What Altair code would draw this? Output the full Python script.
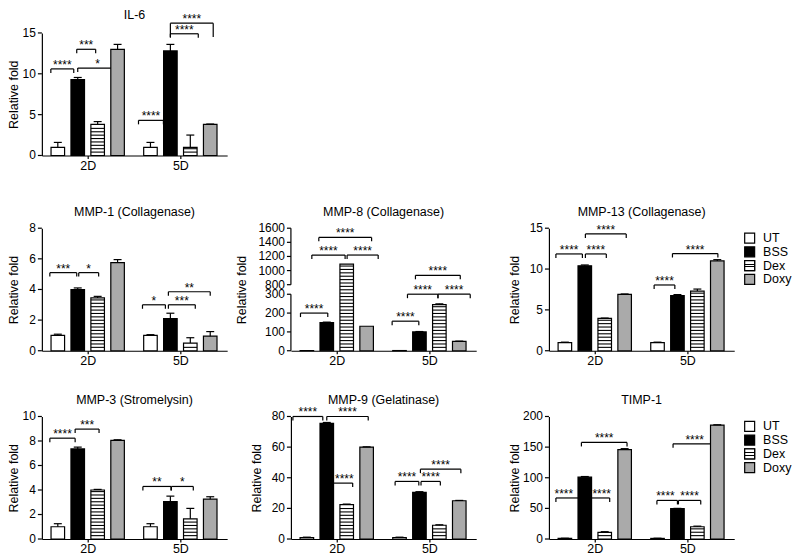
import altair as alt
import numpy as np
import pandas as pd

FONT = "Liberation Sans"

# ---------------- data ----------------
treatments = ["UT", "BSS", "Dex", "Doxy"]
days = ["2D", "5D"]
fill_colors = ["#ffffff", "#000000", "#ffffff", "#aaaaaa"]
y_title = "Relative fold"

# order of values: 2D UT, BSS, Dex, Doxy, 5D UT, BSS, Dex, Doxy
il6_title = "IL-6"
il6_mean = [1.0, 9.3, 3.8, 13.0, 1.0, 12.8, 1.0, 3.8]
il6_err = [0.6, 0.25, 0.35, 0.6, 0.6, 0.8, 1.5, 0.05]
il6_ticks = [0, 5, 10, 15]
# (day, from bar, to bar, level, label[, label position])
il6_brackets = [(0, -0.35, 0.8, 10.6, "****"), (0, 0.95, 1.9, 13.0, "***"),
                (0, 1.0, 3.0, 10.7, "*"), (1, -0.6, 0.65, 4.3, "****"),
                (1, 1.0, 2.4, 14.9, "****"), (1, 1.0, 3.15, 16.2, "****")]

mmp1_title = "MMP-1 (Collagenase)"
mmp1_mean = [1.0, 4.0, 3.45, 5.75, 1.0, 2.1, 0.5, 0.95]
mmp1_err = [0.08, 0.1, 0.1, 0.2, 0.05, 0.35, 0.35, 0.3]
mmp1_ticks = [0, 2, 4, 6, 8]
mmp1_brackets = [(0, -0.4, 0.95, 5.1, "***"), (0, 1.05, 2.05, 5.1, "*"),
                 (1, -0.4, 0.75, 3.0, "*"), (1, 0.9, 2.25, 3.0, "***"),
                 (1, 0.9, 3.0, 3.85, "**")]

mmp8_title = "MMP-8 (Collagenase)"
mmp8_mean = [1.0, 150, 1090, 130, 1.0, 100, 245, 50]
mmp8_err = [0, 2, 0, 0, 0, 2, 4, 1]
mmp8_ticks = [0, 100, 200, 300, 800, 1000, 1200, 1400, 1600]
mmp8_brackets = [(0, -0.32, 1.05, 200, "****"), (0, 0.25, 1.92, 1220, "****"),
                 (0, 2.02, 3.58, 1220, "****"), (0, 0.6, 3.25, 1470, "****"),
                 (1, -0.37, 0.97, 157, "****"), (1, 0.4, 1.93, 303, "****"),
                 (1, 1.93, 3.55, 303, "****"), (1, 0.8, 3.05, 933, "****")]
mmp8_break = [0, 300, 800, 1600]

mmp13_title = "MMP-13 (Collagenase)"
mmp13_mean = [1.0, 10.4, 3.95, 6.9, 1.0, 6.75, 7.3, 11.0]
mmp13_err = [0.05, 0.1, 0.05, 0.05, 0.05, 0.12, 0.25, 0.15]
mmp13_ticks = [0, 5, 10, 15]
mmp13_brackets = [(0, -0.45, 0.88, 11.85, "****"), (0, 1.03, 2.08, 11.85, "****"),
                  (0, 1.03, 3.08, 14.3, "****"), (1, -0.17, 0.87, 8.05, "****"),
                  (1, 0.75, 3.03, 11.9, "****")]

mmp3_title = "MMP-3 (Stromelysin)"
mmp3_mean = [1.0, 7.35, 4.0, 8.05, 1.0, 3.05, 1.65, 3.25]
mmp3_err = [0.25, 0.15, 0.05, 0.05, 0.25, 0.45, 0.85, 0.2]
mmp3_ticks = [0, 2, 4, 6, 8, 10]
mmp3_brackets = [(0, -0.4, 0.87, 8.23, "****"), (0, 0.87, 2.07, 8.97, "***"),
                 (1, -0.38, 1.03, 4.29, "**"), (1, 1.05, 2.15, 4.29, "*")]

mmp9_title = "MMP-9 (Gelatinase)"
mmp9_mean = [1.0, 75.5, 22.5, 60.0, 1.0, 30.5, 9.0, 25.0]
mmp9_err = [0.2, 0.6, 0.3, 0.2, 0.2, 0.4, 0.3, 0.2]
mmp9_ticks = [0, 20, 40, 60, 80]
mmp9_brackets = [(0, -0.7, 0.8, 80, "****"), (0, 1.0, 3.08, 80, "****"),
                 (0, 1.0, 2.3, 36.5, "****", 1.88), (1, -0.22, 0.97, 37.6, "****"),
                 (1, 1.08, 2.05, 37.6, "****"), (1, 1.05, 3.08, 45.6, "****")]

timp1_title = "TIMP-1"
timp1_mean = [1.0, 101, 11, 146, 1.0, 49.5, 20, 186]
timp1_err = [0.3, 1, 1, 1.5, 0.3, 0.5, 1, 0.5]
timp1_ticks = [0, 50, 100, 150, 200]
timp1_brackets = [(0, -0.45, 1.0, 67, "****", -0.05), (0, 1.0, 2.25, 67, "****", 1.85),
                  (0, 0.83, 3.12, 157.6, "****"), (1, -0.03, 1.0, 63, "****", 0.4),
                  (1, 1.05, 2.17, 63, "****"), (1, 0.78, 2.95, 155.4, "****")]

# ---------------- layout / style ----------------
W, H = 186, 123
X_MAX = 9.3
GROUP_START = [0.8, 5.45]
HALF_BAR = 0.34
CAP_HALF = 0.2
STRIPE_PX = 3.4
DROP_PX = 4.0
LW = 1.2
BREAK_PX = [0, 56.7, 66.3, H]

fill_scale = alt.Scale(domain=treatments, range=fill_colors)


def make_panel(title, mean, err, brackets, ticks, title_x, title_y=-12.5, breaks=None):
    broken = breaks is not None
    if broken:
        dp = np.array(breaks, float)
        pp = np.array(BREAK_PX, float)
    else:
        dp = np.array([0, ticks[-1]], float)
        pp = np.array([0, H], float)
    to_px = lambda v: float(np.interp(v, dp, pp))
    to_val = lambda p: float(np.interp(p, pp, dp))

    n = len(treatments)
    bar_rows = []
    for i, (m, e) in enumerate(zip(mean, err)):
        g, k = divmod(i, n)
        c = GROUP_START[g] + k
        bar_rows.append({"treatment": treatments[k], "day": days[g], "c": c,
                         "bx1": c - HALF_BAR, "bx2": c + HALF_BAR,
                         "cl": c - CAP_HALF, "cr": c + CAP_HALF,
                         "base": 0.0, "mean": m, "top": m + e, "err": e})
    bars = pd.DataFrame(bar_rows)

    stripe_rows = []
    for r in bar_rows:
        if r["treatment"] != treatments[2]:
            continue
        top_px = to_px(r["mean"])
        p = STRIPE_PX
        while p < top_px - 1.2:
            stripe_rows.append({"sx1": r["bx1"], "sx2": r["bx2"], "sv": to_val(p)})
            p += STRIPE_PX
    stripes = pd.DataFrame(stripe_rows)

    br_rows, drop_rows = [], []
    for br in brackets:
        g, a, b, yv, s = br[:5]
        xa = GROUP_START[g] + a
        xb = GROUP_START[g] + b
        xm = GROUP_START[g] + br[5] if len(br) > 5 else (xa + xb) / 2
        yd = to_val(to_px(yv) - DROP_PX)
        br_rows.append({"xa": xa, "xb": xb, "xm": xm, "yv": yv, "s": s})
        drop_rows.append({"dx": xa, "dy": yv, "dy2": yd})
        drop_rows.append({"dx": xb, "dy": yv, "dy2": yd})
    brs = pd.DataFrame(br_rows)
    drops = pd.DataFrame(drop_rows)

    xs = alt.Scale(domain=[0, X_MAX], nice=False, zero=False)
    if broken:
        ys = alt.Scale(type="linear", domain=list(breaks), range=[H - p for p in BREAK_PX],
                       nice=False, zero=False)
    else:
        ys = alt.Scale(domain=[0, ticks[-1]], nice=False, zero=True)

    centers = [g0 + (n - 1) / 2 for g0 in GROUP_START]
    mid = sum(centers) / 2
    x_axis = alt.Axis(values=centers,
                      labelExpr=f"datum.value < {mid} ? '{days[0]}' : '{days[1]}'",
                      title=None, tickSize=3, labelFontSize=12.5, labelPadding=1,
                      grid=False, domainWidth=LW, tickWidth=LW, labelOverlap=False)
    y_axis = alt.Axis(values=ticks, title=y_title, titleX=title_x, titleY=H / 2,
                      titleAngle=270, titleAlign="center", titleBaseline="middle",
                      titleFontSize=12.5, titleFontWeight="normal",
                      labels=False, ticks=False, grid=False,
                      domain=not broken, domainWidth=LW)

    X = lambda f: alt.X(f"{f}:Q", scale=xs)
    Y = lambda f: alt.Y(f"{f}:Q", scale=ys)

    tick_df = pd.DataFrame({"v": ticks, "lab": [str(t) for t in ticks]})

    layers = [
        alt.Chart(bars).mark_rect(stroke="black", strokeWidth=LW, opacity=0).encode(
            x=alt.X("bx1:Q", scale=xs, axis=x_axis), x2="bx2:Q",
            y=alt.Y("base:Q", scale=ys, axis=y_axis), y2="mean:Q"),
        # y-axis ticks and labels
        alt.Chart(tick_df).mark_rule(color="black", strokeWidth=LW).encode(
            x=alt.value(-4), x2=alt.value(0), y=Y("v")),
        alt.Chart(tick_df).mark_text(align="right", baseline="middle", fontSize=12,
                                     color="black", font=FONT).encode(
            x=alt.value(-6), y=Y("v"), text="lab:N"),
        alt.Chart(brs).mark_rule(color="black", strokeWidth=LW).encode(
            x=X("xa"), x2="xb:Q", y=Y("yv")),
        alt.Chart(drops).mark_rule(color="black", strokeWidth=LW).encode(
            x=X("dx"), y=Y("dy"), y2="dy2:Q"),
        alt.Chart(bars).mark_rect(stroke="black", strokeWidth=LW).encode(
            x=X("bx1"), x2="bx2:Q", y=Y("base"), y2="mean:Q",
            fill=alt.Fill("treatment:N", scale=fill_scale, legend=None)),
        alt.Chart(stripes).mark_rule(color="black", strokeWidth=1.1).encode(
            x=X("sx1"), x2="sx2:Q", y=Y("sv")),
        alt.Chart(brs).mark_text(fontSize=12, baseline="alphabetic", color="black", font=FONT).encode(
            x=X("xm"), y=Y("yv"), text="s:N"),
    ]
    errs = bars[bars["err"] > 0]
    layers += [
        alt.Chart(errs).mark_rule(color="black", strokeWidth=LW).encode(
            x=X("c"), y=Y("mean"), y2="top:Q"),
        alt.Chart(errs).mark_rule(color="black", strokeWidth=LW).encode(
            x=X("cl"), x2="cr:Q", y=Y("top")),
    ]
    if broken:
        seg = pd.DataFrame({"lo": [breaks[0], breaks[2]], "hi": [breaks[1], breaks[3]]})
        layers.append(alt.Chart(seg).mark_rule(color="black", strokeWidth=LW).encode(
            x=alt.value(0), y=Y("lo"), y2="hi:Q"))
    # panel title as a text mark placed above the plot area
    layers.append(alt.Chart(pd.DataFrame({"t": [title]})).mark_text(
        fontSize=12.5, baseline="alphabetic", align="center", color="black", font=FONT).encode(
        x=alt.value(W / 2), y=alt.value(title_y), text="t:N"))
    return alt.layer(*layers).properties(width=W, height=H)


def make_legend():
    df = pd.DataFrame({"treatment": treatments, "idx": list(range(len(treatments)))})
    ly = alt.Y("idx:Q", scale=alt.Scale(domain=[-0.72, 8.2], reverse=True, nice=False, zero=False),
               axis=None)
    stops = []
    for off, col in [(0, "white"), (0.31, "white"), (0.31, "black"), (0.42, "black"),
                     (0.42, "white"), (0.58, "white"), (0.58, "black"), (0.69, "black"),
                     (0.69, "white"), (1, "white")]:
        stops.append(alt.GradientStop(offset=off, color=col))
    grad = alt.LinearGradient(gradient="linear", stops=stops, x1=0, y1=0, x2=0, y2=1)
    sq = alt.Chart(df).mark_square(size=100, stroke="black", strokeWidth=LW, opacity=1,
                                   fillOpacity=1).encode(
        x=alt.value(8.5), y=ly, fill=alt.Fill("treatment:N", scale=fill_scale, legend=None))
    dex = alt.Chart(df).transform_filter(alt.datum.treatment == treatments[2]).mark_square(
        size=100, stroke="black", strokeWidth=LW, fill=grad, opacity=1).encode(
        x=alt.value(8.5), y=ly)
    tx = alt.Chart(df).mark_text(align="left", baseline="middle", fontSize=12.5,
                                 color="black", font=FONT).encode(
        x=alt.value(22), y=ly, text="treatment:N")
    return alt.layer(sq, dex, tx).properties(width=48, height=H)


def spacer(w, h):
    return alt.Chart(pd.DataFrame({"z": [0]})).mark_point(opacity=0).properties(width=w, height=h)


il6 = make_panel(il6_title, il6_mean, il6_err, il6_brackets, il6_ticks, -28, title_y=-14)
mmp1 = make_panel(mmp1_title, mmp1_mean, mmp1_err, mmp1_brackets, mmp1_ticks, -28)
mmp8 = make_panel(mmp8_title, mmp8_mean, mmp8_err, mmp8_brackets, mmp8_ticks, -50,
                  breaks=mmp8_break)
mmp13 = make_panel(mmp13_title, mmp13_mean, mmp13_err, mmp13_brackets, mmp13_ticks, -35)
mmp3 = make_panel(mmp3_title, mmp3_mean, mmp3_err, mmp3_brackets, mmp3_ticks, -28)
mmp9 = make_panel(mmp9_title, mmp9_mean, mmp9_err, mmp9_brackets, mmp9_ticks, -35)
timp1 = make_panel(timp1_title, timp1_mean, timp1_err, timp1_brackets, timp1_ticks, -35)

col_w = [W, 64, W, 73, W, 7, 48]
row_h = [H, 73, H, 66, H]
cells = {(0, 0): il6,
         (2, 0): mmp1, (2, 2): mmp8, (2, 4): mmp13, (2, 6): make_legend(),
         (4, 0): mmp3, (4, 2): mmp9, (4, 4): timp1, (4, 6): make_legend()}
charts = [cells.get((r, c), spacer(col_w[c], row_h[r]))
          for r in range(len(row_h)) for c in range(len(col_w))]

chart = alt.concat(*charts, columns=len(col_w), spacing=0, bounds="flush").properties(
    padding={"left": 0, "top": 0, "right": 0, "bottom": 0}
).configure_axis(
    labelFont=FONT, titleFont=FONT, domainColor="black", tickColor="black",
    labelColor="black", titleColor="black", labelOverlap=False
).configure_view(strokeWidth=0).configure_text(font=FONT)

chart.save("out.html", embed_options={"renderer": "svg", "actions": False})
